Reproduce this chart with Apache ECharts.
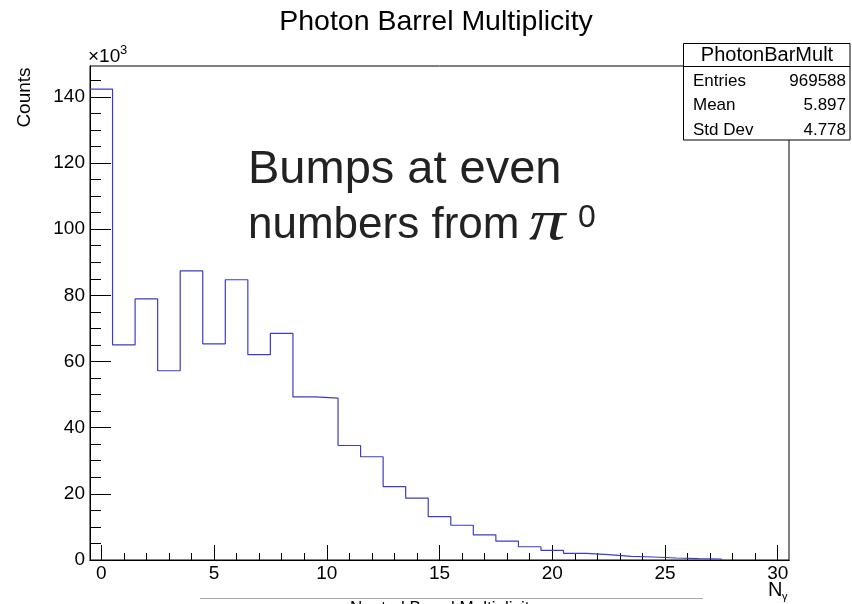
<!DOCTYPE html>
<html>
<head>
<meta charset="utf-8">
<script src="https://cdn.jsdelivr.net/npm/echarts@6/dist/echarts.min.js"></script>
<style>
html,body{margin:0;padding:0;background:#fff;}
#chart{width:852px;height:604px;}
</style>
</head>
<body>
<div id="chart"></div>
<script>
// ---- data (counts in units of 10^3) ----
const bins = [0,1,2,3,4,5,6,7,8,9,10,11,12,13,14,15,16,17,18,19,20,21,22,23,24,25,26,27];
const counts = [142.3,65.0,78.9,57.2,87.4,65.3,84.7,62.1,68.5,49.3,48.9,34.6,31.2,22.2,18.7,13.1,10.5,7.6,5.7,4.0,2.9,2.0,1.6,1.1,0.9,0.6,0.4,0.3];
const xMajorTicks = [0,5,10,15,20,25,30];
const xMinorTicks = [0,1,2,3,4,5,6,7,8,9,10,11,12,13,14,15,16,17,18,19,20,21,22,23,24,25,26,27,28,29,30];
const yMajorTicks = [0,20,40,60,80,100,120,140];
const yMinorTicks = [0,5,10,15,20,25,30,35,40,45,50,55,60,65,70,75,80,85,90,95,100,105,110,115,120,125,130,135,140,145];
const xRange = [-0.5, 30.5];
const yMax = 149.3;
const titleText = 'Photon Barrel Multiplicity';
const statsName = 'PhotonBarMult';
const statsLabels = ['Entries','Mean','Std Dev'];
const statsValues = ['969588','5.897','4.778'];

// step outline from bin edges
const outline = [];
for (let i = 0; i < bins.length; i++) outline.push([bins[i] - 0.5, counts[i]]);
outline.push([bins[bins.length-1] + 0.5, counts[counts.length-1]]);
outline.push([bins[bins.length-1] + 0.5, 0]);

const FONT = 'Liberation Sans';
const chart = echarts.init(document.getElementById('chart'), null, {renderer:'canvas'});

function xAx(ticks, len, labels) {
  return {
    type:'value', min:xRange[0], max:xRange[1], position:'bottom',
    axisLine:{show:true, onZero:false, lineStyle:{color:'#000', width:1}},
    axisTick:{show:true, inside:true, length:len, customValues:ticks, lineStyle:{color:'#000', width:1}},
    axisLabel:{show:!!labels, customValues:labels || [], color:'#000', fontFamily:FONT, fontSize:19, margin:4},
    splitLine:{show:false}
  };
}
function yAx(ticks, len, labels) {
  return {
    type:'value', min:0, max:yMax, position:'left',
    axisLine:{show:true, onZero:false, lineStyle:{color:'#000', width:1}},
    axisTick:{show:true, inside:true, length:len, customValues:ticks, lineStyle:{color:'#000', width:1}},
    axisLabel:{show:!!labels, customValues:labels || [], color:'#000', fontFamily:FONT, fontSize:19, margin:5},
    splitLine:{show:false}
  };
}

const option = {
  backgroundColor:'#fff',
  animation:false,
  grid:{left:90, top:66, width:699, height:494, show:true, borderColor:'#000', borderWidth:1, backgroundColor:'transparent'},
  xAxis:[ xAx(xMajorTicks, 15, xMajorTicks), xAx(xMinorTicks, 7, null) ],
  yAxis:[ yAx(yMajorTicks, 21, yMajorTicks), yAx(yMinorTicks, 11, null) ],
  series:[{
    type:'line', step:'end', data:outline, xAxisIndex:0, yAxisIndex:0,
    showSymbol:false, symbol:'none',
    lineStyle:{color:'#3c3cca', width:1.2}, z:3
  }],
  graphic:[
    {type:'text', x:436, y:22, style:{text:titleText, fontFamily:FONT, fontSize:28.5, fill:'#000', align:'center', verticalAlign:'middle'}},
    {type:'text', x:25, y:97.5, rotation:Math.PI/2, style:{text:'Counts', fontFamily:FONT, fontSize:19, fill:'#000', align:'center', verticalAlign:'middle'}},
    {type:'text', x:88, y:56.5, style:{text:'\u00d710', fontFamily:FONT, fontSize:19, fill:'#000', align:'left', verticalAlign:'middle'}},
    {type:'text', x:120, y:50.5, style:{text:'3', fontFamily:FONT, fontSize:13, fill:'#000', align:'left', verticalAlign:'middle'}},
    // stats box
    {type:'rect', z:10, shape:{x:683.5, y:43.5, width:166.5, height:96.5}, style:{fill:'#fff', stroke:'#000', lineWidth:1}},
    {type:'line', z:11, shape:{x1:683.5, y1:66.5, x2:850, y2:66.5}, style:{stroke:'#000', lineWidth:1}},
    {type:'text', z:11, x:767, y:55, style:{text:statsName, fontFamily:FONT, fontSize:20, fill:'#000', align:'center', verticalAlign:'middle'}},
    {type:'text', z:11, x:693, y:81.7, style:{text:statsLabels[0], fontFamily:FONT, fontSize:17, fill:'#000', align:'left', verticalAlign:'middle'}},
    {type:'text', z:11, x:693, y:105.5, style:{text:statsLabels[1], fontFamily:FONT, fontSize:17, fill:'#000', align:'left', verticalAlign:'middle'}},
    {type:'text', z:11, x:693, y:130, style:{text:statsLabels[2], fontFamily:FONT, fontSize:17, fill:'#000', align:'left', verticalAlign:'middle'}},
    {type:'text', z:11, x:846, y:81.7, style:{text:statsValues[0], fontFamily:FONT, fontSize:17, fill:'#000', align:'right', verticalAlign:'middle'}},
    {type:'text', z:11, x:846, y:105.5, style:{text:statsValues[1], fontFamily:FONT, fontSize:17, fill:'#000', align:'right', verticalAlign:'middle'}},
    {type:'text', z:11, x:846, y:130, style:{text:statsValues[2], fontFamily:FONT, fontSize:17, fill:'#000', align:'right', verticalAlign:'middle'}},
    // annotation
    {type:'text', x:248, y:170.3, style:{text:'Bumps at even', fontFamily:FONT, fontSize:47, fill:'#222', align:'left', verticalAlign:'middle'}},
    {type:'text', x:248, y:226.3, style:{text:'numbers from', fontFamily:FONT, fontSize:44, fill:'#222', align:'left', verticalAlign:'middle'}},
    {type:'text', x:529, y:224, scaleX:1.3, style:{text:'\u03c0', fontFamily:'Liberation Serif', fontStyle:'italic', fontSize:56, fill:'#222', align:'left', verticalAlign:'middle'}},
    {type:'text', x:578, y:218.5, style:{text:'0', fontFamily:FONT, fontSize:32, fill:'#222', align:'left', verticalAlign:'middle'}},
    // x axis symbol
    {type:'text', x:768, y:590.5, style:{text:'N', fontFamily:FONT, fontSize:20, fill:'#000', align:'left', verticalAlign:'middle'}},
    {type:'text', x:782, y:597, style:{text:'\u03b3', fontFamily:FONT, fontSize:11, fill:'#000', align:'left', verticalAlign:'middle'}},
    // clipped bottom overlay
    {type:'line', shape:{x1:200, y1:598.5, x2:703, y2:598.5}, style:{stroke:'#aaa', lineWidth:1}},
    {type:'text', x:444, y:600, style:{text:'Neutral Barrel Multiplicity', fontFamily:FONT, fontSize:17, fill:'#000', align:'center', verticalAlign:'top'}}
  ]
};
chart.setOption(option);
</script>
</body>
</html>
